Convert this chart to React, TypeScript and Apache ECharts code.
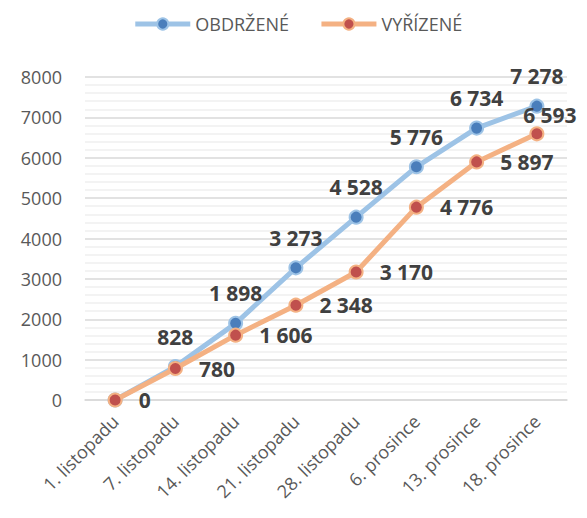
import React, { useEffect, useRef } from "react";
import * as echarts from "echarts";

const categories = ["1. listopadu", "7. listopadu", "14. listopadu", "21. listopadu", "28. listopadu", "6. prosince", "13. prosince", "18. prosince"];
const obdrzene = [0, 828, 1898, 3273, 4528, 5776, 6734, 7278];
const vyrizene = [0, 780, 1606, 2348, 3170, 4776, 5897, 6593];
const seriesNames = ["OBDRŽENÉ", "VYŘÍZENÉ"];

const fmt = (v: number) => String(v).replace(/\B(?=(\d{3})+(?!\d))/g, " ");
const FONT = "Open Sans";

export default function App() {
  const ref = useRef<HTMLDivElement>(null);
  useEffect(() => {
    const chart = echarts.init(ref.current!, null, { renderer: "svg" });
    chart.setOption({
      animation: false,
      textStyle: { fontFamily: FONT },
      legend: {
        top: 2,
        left: "center",
        itemWidth: 55,
        itemHeight: 14,
        itemGap: 30,
        lineStyle: { width: 5 },
        textStyle: { fontSize: 18, color: "#595959", fontFamily: FONT },
        data: seriesNames,
      },
      grid: { left: 77, right: 20, top: 69, bottom: 110, outerBoundsMode: "none", containLabel: false },
      xAxis: {
        type: "category",
        data: categories,
        boundaryGap: true,
        axisLine: { lineStyle: { color: "#d9d9d9", width: 1.5 } },
        axisTick: { show: false },
        axisLabel: { rotate: 45, fontSize: 18, color: "#595959", fontFamily: FONT, margin: 18, interval: 0 },
      },
      yAxis: {
        type: "value",
        min: 0,
        max: 8000,
        interval: 1000,
        axisLine: { show: false },
        axisTick: { show: false },
        axisLabel: { fontSize: 18, color: "#595959", fontFamily: FONT, margin: 23, formatter: (v: number) => String(v) },
        splitLine: { lineStyle: { color: "#d9d9d9", width: 1.5 } },
        minorTick: { show: false, splitNumber: 5 },
        minorSplitLine: { show: true, lineStyle: { color: "#efefef", width: 1.5 } },
      },
      series: [
        {
          name: seriesNames[0],
          type: "line",
          data: obdrzene.map((v, i) => (i === 0 ? { value: v, label: { show: false } } : v)),
          symbol: "circle",
          symbolSize: 13,
          z: 2,
          lineStyle: { color: "#9dc3e6", width: 5 },
          itemStyle: { color: "#4a7ebb", borderColor: "#9dc3e6", borderWidth: 2 },
          label: {
            show: true,
            position: "top",
            distance: 12,
            fontSize: 21,
            fontWeight: "bold",
            color: "#404040",
            fontFamily: FONT,
            formatter: (p: any) => fmt(p.value),
          },
        },
        {
          name: seriesNames[1],
          type: "line",
          data: vyrizene.map((v, i) =>
            i === vyrizene.length - 1 ? { value: v, label: { position: "top", distance: 5, offset: [13, 4] } } : v
          ),
          symbol: "circle",
          symbolSize: 13,
          z: 3,
          lineStyle: { color: "#f4b183", width: 5 },
          itemStyle: { color: "#c0504d", borderColor: "#f4b183", borderWidth: 2 },
          label: {
            show: true,
            position: "right",
            distance: 16,
            fontSize: 21,
            fontWeight: "bold",
            color: "#404040",
            fontFamily: FONT,
            formatter: (p: any) => fmt(p.value),
          },
        },
      ],
    });
    return () => chart.dispose();
  }, []);
  return <div ref={ref} style={{ width: 579, height: 502 }} />;
}
